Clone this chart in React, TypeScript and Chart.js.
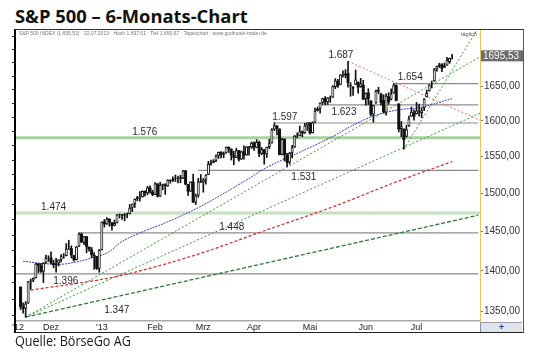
import { useEffect, useRef } from "react";
import { Chart, registerables } from "chart.js";

Chart.register(...registerables);

// ---- Data: S&P 500 daily OHLC, 14.11.2012 – 22.07.2013 (index = trading day) ----
const OPEN = [
  1380.13, 1355.41, 1353.36, 1359.88, 1386.82, 1387.79, 1391.03, 1409.15, 1406.29, 1398.77, 1409.96, 1415.95,
  1416.34, 1409.46, 1407.05, 1409.43, 1413.95, 1418.07, 1418.55, 1427.84, 1428.48, 1419.45, 1413.54, 1430.47, 1446.79, 1435.81, 1443.67, 1430.15, 1426.66, 1419.83, 1418.10, 1402.43,
  1426.19, 1462.42, 1459.37, 1466.47, 1461.89, 1457.15, 1461.02, 1472.12, 1472.05, 1470.67, 1472.33, 1472.63, 1480.95, 1485.98, 1492.56, 1494.81, 1494.82, 1502.96, 1500.18, 1507.84, 1501.96,
  1498.11, 1513.17, 1495.71, 1511.29, 1512.12, 1509.39, 1517.93, 1517.01, 1519.43, 1520.33, 1521.38, 1519.79, 1530.94, 1511.95, 1502.42, 1515.60, 1487.85, 1496.94, 1515.99,
  1514.68, 1518.20, 1525.20, 1539.79, 1541.46, 1544.26, 1551.15, 1556.22, 1552.48, 1554.52, 1563.21, 1560.70, 1552.10, 1548.34, 1558.71, 1545.90, 1556.89, 1551.69, 1563.75, 1562.86,
  1569.18, 1562.17, 1570.25, 1553.69, 1559.98, 1553.26, 1563.11, 1568.61, 1587.73, 1593.30, 1588.84, 1552.36, 1574.57, 1552.03, 1541.61, 1555.25, 1562.50, 1578.78, 1578.78, 1585.16, 1582.34, 1593.58,
  1597.55, 1582.77, 1597.60, 1614.40, 1617.55, 1625.95, 1632.69, 1626.69, 1632.10, 1633.75, 1649.13, 1658.07, 1652.45, 1665.71, 1666.20, 1669.39, 1651.62, 1646.67, 1652.63, 1656.57, 1649.14, 1652.13,
  1631.71, 1640.73, 1629.05, 1609.29, 1625.27, 1644.67, 1638.64, 1629.94, 1612.15, 1635.52, 1630.64, 1639.77, 1651.83, 1624.62, 1588.62, 1588.77, 1577.52, 1592.27, 1606.44, 1611.12,
  1609.78, 1614.29, 1611.48, 1618.65, 1634.20, 1642.89, 1652.28, 1657.41, 1675.26, 1679.59, 1682.70, 1677.91, 1681.05, 1686.15, 1694.41,
];
const HIGH = [
  1380.17, 1360.62, 1362.03, 1386.89, 1389.77, 1391.25, 1409.16, 1409.15, 1409.01, 1410.31, 1419.70, 1418.86,
  1423.73, 1413.14, 1415.56, 1413.95, 1420.34, 1421.64, 1434.27, 1438.59, 1431.36, 1419.45, 1430.67, 1448.00, 1447.75, 1443.70, 1443.67, 1430.15, 1429.42, 1422.80, 1418.10, 1426.74,
  1462.43, 1465.47, 1467.94, 1466.47, 1461.89, 1464.73, 1472.30, 1472.75, 1472.05, 1473.31, 1473.96, 1485.16, 1485.98, 1492.56, 1496.13, 1502.27, 1503.26, 1503.23, 1509.35, 1509.94, 1504.19,
  1514.41, 1513.17, 1514.96, 1512.53, 1512.90, 1518.31, 1518.31, 1522.29, 1524.69, 1523.14, 1524.24, 1530.94, 1530.94, 1511.95, 1515.64, 1525.84, 1498.99, 1520.08, 1525.34,
  1519.99, 1525.27, 1543.47, 1545.25, 1545.78, 1552.48, 1556.27, 1556.77, 1556.39, 1563.32, 1563.62, 1560.70, 1557.25, 1561.56, 1558.71, 1557.74, 1564.91, 1563.95, 1564.07, 1570.28,
  1570.57, 1573.66, 1571.47, 1562.60, 1559.98, 1563.07, 1573.89, 1589.07, 1597.35, 1593.30, 1588.84, 1575.35, 1574.57, 1554.38, 1555.89, 1565.55, 1579.58, 1583.00, 1592.64, 1585.78, 1596.65, 1597.57,
  1597.55, 1598.60, 1618.46, 1619.77, 1626.03, 1632.78, 1635.01, 1633.70, 1636.00, 1651.10, 1661.49, 1660.51, 1667.47, 1672.84, 1674.93, 1687.18, 1655.50, 1649.78, 1674.21, 1656.57, 1661.91, 1658.99,
  1640.42, 1646.53, 1629.31, 1622.56, 1644.40, 1648.69, 1640.13, 1637.71, 1639.25, 1640.80, 1646.50, 1654.19, 1652.45, 1624.62, 1599.19, 1588.77, 1593.79, 1606.83, 1620.07, 1615.94,
  1626.61, 1624.26, 1618.97, 1632.07, 1644.68, 1652.61, 1657.92, 1676.63, 1680.19, 1684.51, 1683.73, 1684.75, 1693.12, 1692.09, 1697.61,
];
const LOW = [
  1352.50, 1348.05, 1343.35, 1359.88, 1377.04, 1386.39, 1391.03, 1397.68, 1398.03, 1385.43, 1409.04, 1411.63,
  1408.46, 1403.65, 1398.23, 1405.93, 1410.90, 1415.64, 1418.55, 1426.76, 1416.00, 1411.88, 1413.54, 1430.47, 1435.80, 1432.82, 1422.58, 1424.66, 1416.43, 1401.80, 1401.58, 1398.11,
  1426.19, 1455.53, 1458.99, 1456.62, 1451.64, 1457.15, 1461.02, 1467.58, 1465.69, 1463.76, 1467.60, 1472.63, 1475.81, 1481.16, 1489.90, 1489.46, 1494.82, 1496.33, 1498.09, 1500.11, 1496.76,
  1498.11, 1495.02, 1495.71, 1504.71, 1498.49, 1509.39, 1513.61, 1515.61, 1515.93, 1514.02, 1514.14, 1519.79, 1511.41, 1497.29, 1502.42, 1487.85, 1485.01, 1494.88, 1514.46,
  1501.48, 1512.29, 1525.20, 1538.11, 1541.46, 1542.94, 1547.36, 1548.24, 1548.25, 1554.52, 1555.74, 1545.13, 1538.57, 1548.34, 1543.55, 1545.90, 1546.22, 1551.69, 1551.90, 1561.08,
  1558.47, 1562.17, 1549.80, 1552.52, 1539.50, 1548.63, 1560.92, 1568.61, 1586.17, 1579.97, 1552.28, 1552.36, 1543.69, 1536.03, 1539.40, 1548.19, 1562.50, 1575.80, 1578.78, 1577.56, 1582.34, 1586.50,
  1581.28, 1582.77, 1597.60, 1614.21, 1611.10, 1622.70, 1623.09, 1623.71, 1626.74, 1633.75, 1646.68, 1648.60, 1652.45, 1663.52, 1662.67, 1648.86, 1635.53, 1636.88, 1652.63, 1640.05, 1648.61, 1630.74,
  1622.72, 1623.62, 1607.09, 1598.23, 1625.27, 1639.26, 1622.92, 1610.92, 1608.07, 1623.96, 1630.34, 1639.77, 1628.91, 1584.32, 1577.70, 1560.33, 1577.09, 1592.27, 1606.44, 1601.06,
  1609.78, 1606.77, 1604.57, 1614.71, 1634.20, 1642.89, 1647.66, 1657.41, 1672.33, 1677.89, 1671.84, 1677.91, 1681.05, 1684.08, 1690.67,
];
const CLOSE = [
  1355.49, 1353.33, 1359.88, 1386.89, 1387.81, 1391.03, 1409.15, 1406.29, 1398.94, 1409.93, 1415.95, 1416.18,
  1409.46, 1407.05, 1409.28, 1413.94, 1418.07, 1418.55, 1427.84, 1428.48, 1419.45, 1413.58, 1430.36, 1446.79, 1435.81, 1443.69, 1430.15, 1426.66, 1419.83, 1418.10, 1402.43, 1426.19,
  1462.42, 1459.37, 1466.47, 1461.89, 1457.15, 1461.02, 1472.12, 1472.05, 1470.68, 1472.34, 1472.63, 1480.94, 1485.98, 1492.56, 1494.81, 1494.82, 1502.96, 1500.18, 1507.84, 1501.96, 1498.11,
  1513.17, 1495.71, 1511.29, 1512.12, 1509.39, 1517.93, 1517.01, 1519.43, 1520.33, 1521.38, 1519.79, 1530.94, 1511.95, 1502.42, 1515.60, 1487.85, 1496.94, 1515.99, 1514.68,
  1518.20, 1525.20, 1539.79, 1541.46, 1544.26, 1551.18, 1556.22, 1552.48, 1554.52, 1563.23, 1560.70, 1552.10, 1548.34, 1558.71, 1545.80, 1556.89, 1551.69, 1563.77, 1562.85, 1569.19,
  1562.17, 1570.25, 1553.69, 1559.98, 1553.28, 1563.07, 1568.61, 1587.73, 1593.37, 1588.85, 1552.36, 1574.57, 1552.01, 1541.61, 1555.25, 1562.50, 1578.78, 1578.79, 1585.16, 1582.24, 1593.61, 1597.57,
  1582.70, 1597.59, 1614.42, 1617.50, 1625.96, 1632.69, 1626.67, 1633.70, 1633.77, 1650.34, 1658.78, 1650.47, 1667.47, 1666.29, 1669.16, 1655.35, 1650.51, 1649.60, 1660.06, 1648.36, 1654.41, 1630.74,
  1640.42, 1631.38, 1608.90, 1622.56, 1643.38, 1642.81, 1626.13, 1612.52, 1636.36, 1626.73, 1639.04, 1651.81, 1628.93, 1588.19, 1592.43, 1573.09, 1588.03, 1603.26, 1613.20, 1606.28,
  1614.96, 1614.08, 1615.41, 1631.89, 1640.46, 1652.32, 1652.62, 1675.02, 1680.19, 1682.50, 1676.26, 1680.91, 1689.37, 1692.09, 1695.53,
];

// Month tick positions (trading-day index) and labels
const MONTH_TICKS = [-1, 12, 32, 53, 72, 92, 114, 136, 156];
const MONTH_LABELS = ["'12", "Dez", "'13", "Feb", "Mrz", "Apr", "Mai", "Jun", "Jul"];
const PRICE_TICKS = [1350, 1400, 1450, 1500, 1550, 1600, 1650];
const LAST_PRICE = 1695.53;
const LAST_PRICE_LABEL = "1695,53";

// Moving averages (read at sample days)
const MA50_DAY = [1, 9, 15, 22, 28, 35, 39, 47, 57, 70, 90, 97, 110, 123, 130, 139, 149, 157, 170];
const MA50_VAL = [1412, 1409, 1408, 1411, 1416, 1424, 1435, 1448, 1461, 1481, 1520, 1535, 1556, 1578, 1592, 1607, 1616, 1619, 1632];
const MA200_DAY = [4, 38, 71, 97, 123, 150, 170];
const MA200_VAL = [1376, 1393, 1422, 1452, 1482, 1518, 1543];

// Support / resistance levels
const H_LEVEL = [1654, 1623, 1597, 1531, 1448, 1396];
const H_FROM = [147, 120, 100, 70, 23, -1.8];
const H_TO = 180.3;
const G_LEVEL = [1576, 1474];

// Trend lines [fromDay, fromVal, toDay, toVal]
const TREND_DOWN = [129, 1687.18, 181, 1601];
const TREND_UP_A = [2, 1343.35, 181, 1694];
const TREND_UP_B = [2, 1343.35, 181, 1611];
const TREND_UP_C = [2, 1343.35, 180.3, 1471];
const TREND_UP_D = [151, 1560.33, 179.8, 1735];

// Level annotations
const NOTE_TEXT = ["1.687", "1.654", "1.623", "1.597", "1.576", "1.531", "1.474", "1.448", "1.396", "1.347"];
const NOTE_LEVEL = [1687, 1654, 1623, 1597, 1576, 1531, 1474, 1448, 1396, 1347];
const NOTE_DAY = [126.2, 153.5, 127.4, 104.1, 48.9, 111.6, 13, 83.2, 17.8, 37.9];
const NOTE_BELOW = [false, false, true, false, false, true, false, false, true, false];

const Y_MIN = 1338.7;
const Y_MAX = 1735;
const FONT = "'Liberation Sans', Arial, sans-serif";

const seg = (t: number[]) => [
  { x: t[0], y: t[1] },
  { x: t[2], y: t[3] },
];

const notesPlugin = {
  id: "notes",
  afterDatasetsDraw(chart: any) {
    const { ctx, chartArea } = chart;
    const x = chart.scales.x;
    const y = chart.scales.y;
    ctx.save();
    ctx.font = `10px ${FONT}`;
    ctx.fillStyle = "#2b2b2b";
    ctx.textAlign = "center";
    ctx.textBaseline = "middle";
    NOTE_TEXT.forEach((t, i) => {
      const px = x.getPixelForValue(NOTE_DAY[i]);
      const base = y.getPixelForValue(NOTE_LEVEL[i]);
      const py = base + (NOTE_BELOW[i] ? 7 : i === NOTE_TEXT.length - 1 ? -4 : -6);
      ctx.fillText(t, px, py);
    });
    const py = y.getPixelForValue(LAST_PRICE);
    ctx.fillStyle = "#6c6c6c";
    ctx.fillRect(chartArea.right + 1, py - 5.5, 42, 11);
    ctx.fillStyle = "#ffffff";
    ctx.textAlign = "left";
    ctx.fillText(LAST_PRICE_LABEL, chartArea.right + 3, py + 0.5);
    ctx.restore();
  },
};

export default function App() {
  const canvasRef = useRef<HTMLCanvasElement>(null);
  const titleRef = useRef<HTMLSpanElement>(null);
  const srcRef = useRef<HTMLSpanElement>(null);

  useEffect(() => {
    const fit = (el: HTMLElement | null, w: number) => {
      if (!el) return;
      const s = w / el.offsetWidth;
      el.style.transform = `scaleX(${s})`;
    };
    fit(titleRef.current, 233);
    fit(srcRef.current, 116);

    const idx = CLOSE.map((_, i) => i);
    const up = CLOSE.map((c, i) => c >= OPEN[i]);

    const lineDs = (data: any[], color: string, width: number, dash: number[], order: number, extra: any = {}) => ({
      type: "line" as const,
      data,
      borderColor: color,
      borderWidth: width,
      borderDash: dash,
      pointRadius: 0,
      tension: 0,
      fill: false,
      order,
      ...extra,
    });

    const datasets: any[] = [];
    G_LEVEL.forEach((v, k) =>
      datasets.push(
        lineDs(
          [
            { x: -1.8, y: v },
            { x: 181, y: v },
          ],
          k === 0 ? "#a9d0a0" : "#c4e2bd",
          3,
          [],
          20
        )
      )
    );
    H_LEVEL.forEach((v, k) =>
      datasets.push(
        lineDs(
          [
            { x: H_FROM[k], y: v },
            { x: H_TO, y: v },
          ],
          "#8c8c8c",
          1.2,
          [],
          19
        )
      )
    );
    datasets.push(lineDs(seg(TREND_UP_A), "#3c9a3c", 1, [2, 2], 8));
    datasets.push(lineDs(seg(TREND_UP_B), "#3c9a3c", 1, [2, 2], 8));
    datasets.push(lineDs(seg(TREND_UP_C), "#2f7a35", 1.3, [4, 2], 8));
    datasets.push(lineDs(seg(TREND_UP_D), "#3c9a3c", 1, [2, 2], 8));
    datasets.push(lineDs(seg(TREND_DOWN), "#e07070", 1, [2, 2], 8));
    datasets.push(
      lineDs(
        MA200_DAY.map((d, i) => ({ x: d, y: MA200_VAL[i] })),
        "#e02828",
        1.2,
        [3, 2],
        7,
        { cubicInterpolationMode: "monotone" }
      )
    );
    datasets.push(
      lineDs(
        MA50_DAY.map((d, i) => ({ x: d, y: MA50_VAL[i] })),
        "#3b3bd0",
        1,
        [2, 1],
        7,
        { cubicInterpolationMode: "monotone" }
      )
    );
    // candle wicks
    datasets.push({
      type: "bar",
      data: idx.map((i) => ({ x: i, y: [LOW[i], HIGH[i]] })),
      backgroundColor: "#111111",
      grouped: false,
      barPercentage: 1,
      categoryPercentage: 1,
      maxBarThickness: 1,
      borderWidth: 0,
      order: 4,
    });
    // candle bodies
    datasets.push({
      type: "bar",
      data: idx.map((i) => ({ x: i, y: [OPEN[i], CLOSE[i]] })),
      backgroundColor: up.map((u) => (u ? "#ffffff" : "#111111")),
      borderColor: "#111111",
      borderWidth: up.map((u) => (u ? 1 : 0)),
      borderSkipped: false,
      grouped: false,
      barPercentage: 1.2,
      categoryPercentage: 1,
      maxBarThickness: 3,
      order: 3,
    });

    const chart = new Chart(canvasRef.current as HTMLCanvasElement, {
      type: "bar",
      data: { datasets },
      plugins: [notesPlugin],
      options: {
        responsive: false,
        animation: false,
        devicePixelRatio: 1,
        events: [],
        layout: { padding: { left: 16, top: 30, right: 18, bottom: 30 } },
        plugins: { legend: { display: false }, tooltip: { enabled: false } },
        scales: {
          x: {
            type: "linear",
            min: -1.8,
            max: 181,
            offset: false,
            grid: { display: false, offset: false, drawTicks: false },
            border: { display: true, color: "#aaaaaa", width: 1.5 },
            afterBuildTicks: (s: any) => {
              s.ticks = MONTH_TICKS.map((v) => ({ value: v }));
            },
            afterFit: (s: any) => {
              s.height = 11;
              s.paddingLeft = 0;
              s.paddingRight = 0;
            },
            ticks: {
              autoSkip: false,
              maxRotation: 0,
              padding: 1,
              color: "#222222",
              font: { family: FONT, size: 9 },
              callback: (v: any) => {
                const k = MONTH_TICKS.indexOf(Number(v));
                return k >= 0 ? MONTH_LABELS[k] : "";
              },
            },
          },
          y: {
            type: "logarithmic",
            position: "right",
            min: Y_MIN,
            max: Y_MAX,
            grid: { drawOnChartArea: false, drawTicks: true, tickLength: 3, color: "#777777" },
            border: { display: true, color: "#efc55a", dash: [2, 2], width: 1 },
            afterBuildTicks: (s: any) => {
              s.ticks = PRICE_TICKS.map((v) => ({ value: v }));
            },
            afterFit: (s: any) => {
              s.width = 42;
            },
            ticks: {
              padding: 1,
              color: "#333333",
              font: { family: FONT, size: 10 },
              callback: (v: any) => Number(v).toFixed(2).replace(".", ","),
            },
          },
          yl: {
            type: "logarithmic",
            position: "left",
            min: Y_MIN,
            max: Y_MAX,
            grid: { drawOnChartArea: false, drawTicks: true, tickLength: 4, color: "#222222" },
            border: { display: false },
            afterBuildTicks: (s: any) => {
              const t: any[] = [];
              for (let v = 1345; v < Y_MAX; v += 20) t.push({ value: v });
              s.ticks = t;
            },
            afterFit: (s: any) => {
              s.width = 0;
            },
            ticks: { display: false },
          },
        },
      } as any,
    });
    return () => chart.destroy();
  }, []);

  return (
    <div
      style={{
        position: "fixed",
        left: 0,
        top: 0,
        width: 540,
        height: 362,
        background: "#ffffff",
        overflow: "hidden",
      }}
    >
      <div
        style={{
          position: "absolute",
          left: 15,
          top: 7,
          lineHeight: 1,
          whiteSpace: "nowrap",
        }}
      >
        <span
          ref={titleRef}
          style={{
            display: "inline-block",
            transformOrigin: "0 0",
            fontFamily: "'Open Sans', sans-serif",
            fontWeight: 700,
            fontSize: 18.6,
            color: "#111111",
          }}
        >
          S&amp;P 500 – 6-Monats-Chart
        </span>
      </div>
      <canvas
        ref={canvasRef}
        width={540}
        height={362}
        style={{ position: "absolute", left: 0, top: 0, width: 540, height: 362 }}
      />
      <div
        style={{
          position: "absolute",
          left: 14,
          top: 29,
          width: 507,
          height: 302,
          borderTop: "1px solid #333333",
          borderRight: "1px solid #555555",
          borderBottom: "1.5px solid #222222",
          borderLeft: "2px solid #000000",
          pointerEvents: "none",
        }}
      />
      <div
        style={{
          position: "absolute",
          left: 19,
          top: 30,
          fontFamily: FONT,
          fontSize: 5,
          color: "#777777",
          whiteSpace: "nowrap",
        }}
      >
        S&amp;P 500 INDEX (1.695,53) · 22.07.2013 · Hoch 1.697,61 · Tief 1.690,67 · Tageschart · www.godmode-trader.de
      </div>
      <div
        style={{
          position: "absolute",
          left: 461,
          top: 31,
          fontFamily: FONT,
          fontSize: 5.5,
          color: "#555555",
          whiteSpace: "nowrap",
        }}
      >
        täglich
      </div>
      <div
        style={{
          position: "absolute",
          left: 480,
          top: 322,
          width: 41,
          height: 9,
          background: "#dfe3ec",
          borderLeft: "1px solid #8c8c9c",
          borderTop: "1px solid #9a9aa8",
          fontFamily: FONT,
          fontSize: 9,
          fontWeight: 700,
          lineHeight: "9px",
          color: "#2440a8",
          textAlign: "center",
        }}
      >
        +
      </div>
      <div
        style={{
          position: "absolute",
          left: 15,
          top: 333,
          lineHeight: 1,
          whiteSpace: "nowrap",
        }}
      >
        <span
          ref={srcRef}
          style={{
            display: "inline-block",
            transformOrigin: "0 0",
            fontFamily: "'Open Sans', sans-serif",
            fontSize: 15,
            color: "#1a1a1a",
          }}
        >
          Quelle: BörseGo AG
        </span>
      </div>
    </div>
  );
}
